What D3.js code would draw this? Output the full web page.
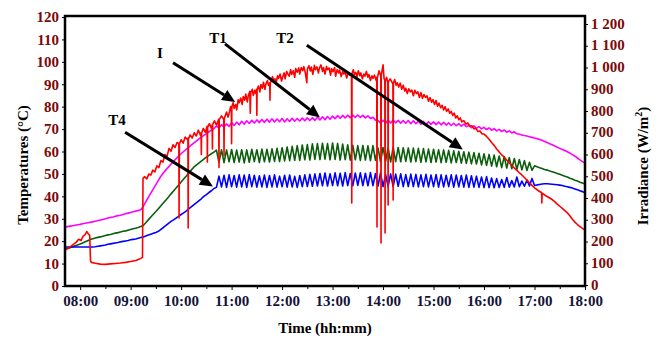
<!DOCTYPE html>
<html>
<head>
<meta charset="utf-8">
<script src="https://cdn.jsdelivr.net/npm/d3@7"></script>
<style>
  body { margin: 0; background: #fff; }
  text { font-family: "Liberation Serif", "Times New Roman", serif; font-weight: bold; }
</style>
</head>
<body>
<script>
//Data - temperature logs sampled every 3 minutes (0.05 h) from 07:42
    const tStart = 7.7;
    const tStep = 0.05;

    // T1 (magenta), °C
    const t1Temp = [
        26.3,26.5,26.7,26.9,27.1,27.3,27.5,27.8,28.0,28.2,28.4,28.6,28.9,29.2,29.4,29.7,30.0,30.3,30.6,30.8,
        31.1,31.4,31.6,31.9,32.2,32.5,32.8,33.1,33.4,33.7,34.0,35.5,37.5,39.5,41.4,43.3,45.2,47.1,49.0,50.5,
        51.8,53.1,54.4,55.6,56.8,57.9,59.0,60.0,61.0,61.9,62.8,63.7,64.6,65.5,66.4,67.2,68.0,68.8,69.5,70.2,
        71.4,70.4,72.0,70.9,72.3,71.2,72.9,71.6,73.1,71.9,73.5,72.2,73.7,72.5,73.9,72.7,74.1,72.9,74.3,73.0,
        74.4,73.1,74.6,73.2,74.5,73.3,74.7,73.2,74.6,73.4,74.8,73.5,74.7,73.6,74.9,73.7,75.0,73.8,75.1,73.9,
        75.3,74.1,75.5,74.2,75.6,74.4,75.8,74.6,76.0,74.8,76.1,75.0,76.2,75.1,76.2,75.2,76.3,75.2,76.1,75.0,
        75.9,74.7,75.3,74.0,73.8,72.6,73.9,72.6,74.0,72.7,74.0,72.8,73.9,72.6,73.8,72.6,73.8,72.4,73.7,72.4,
        73.5,72.2,73.4,72.1,73.3,72.1,73.2,72.0,73.1,71.9,73.0,71.8,72.8,71.6,72.6,71.5,72.4,71.3,72.2,71.1,
        71.6,70.6,71.4,70.3,71.1,70.1,70.8,69.8,70.5,69.5,70.2,69.2,69.9,68.9,69.6,68.6,69.2,68.3,68.8,67.9,
        67.7,67.4,67.1,66.9,66.6,66.3,66.0,65.7,65.4,65.0,64.5,64.0,63.5,63.0,62.5,61.9,61.4,60.9,60.4,59.9,
        59.3,58.6,57.9,57.1,56.3,55.5,54.8
    ];

    // T2 (green), °C
    const t2Temp = [
        16.3,16.7,17.1,17.5,17.9,18.3,18.7,19.2,19.7,20.2,20.7,21.1,21.4,21.7,21.9,22.2,22.5,22.8,23.0,23.3,
        23.6,23.8,24.1,24.4,24.6,24.9,25.2,25.5,25.8,26.1,26.5,27.0,28.2,29.5,30.8,32.0,33.2,34.5,35.8,37.1,
        38.4,39.7,41.1,42.4,43.7,45.0,46.4,47.7,49.0,50.4,51.7,53.0,53.9,54.8,55.7,56.6,57.5,58.3,59.0,59.7,
        60.6,55.2,60.8,55.0,60.7,55.4,60.9,55.1,60.6,55.3,60.8,54.9,60.7,55.2,61.0,55.5,60.8,55.1,61.1,55.4,
        61.0,55.3,61.2,55.6,61.4,55.5,61.7,55.8,62.0,55.9,62.3,56.1,62.6,56.0,62.9,56.3,63.1,56.2,63.4,56.5,
        63.5,56.4,63.7,56.6,63.5,56.3,63.8,56.5,63.6,56.2,63.3,56.4,63.0,56.1,62.8,56.3,62.6,56.0,62.7,56.2,
        62.5,55.9,62.6,56.1,61.6,55.4,61.8,55.6,61.7,55.3,61.9,55.5,61.8,55.4,61.7,55.6,61.6,55.3,61.5,55.5,
        61.4,55.2,61.3,55.4,61.1,55.1,61.0,55.3,60.8,55.0,60.7,55.2,60.5,54.9,60.3,55.1,60.1,54.8,59.9,54.7,
        59.7,54.5,59.5,54.4,59.2,54.0,59.0,53.8,58.7,53.5,58.4,53.2,58.0,52.8,57.7,52.6,57.3,52.3,56.9,52.0,
        56.4,51.8,55.9,51.5,55.2,51.6,53.6,53.2,52.8,52.4,52.0,51.7,51.3,51.0,50.6,50.2,49.8,49.4,49.0,48.6,
        48.1,47.7,47.2,46.8,46.3,45.9,45.5
    ];

    // T4 (blue), °C
    const t4Temp = [
        17.4,17.4,17.4,17.4,17.4,17.4,17.4,17.4,17.4,17.4,17.4,17.4,17.5,17.7,17.9,18.1,18.3,18.6,18.8,19.0,
        19.2,19.4,19.7,19.9,20.1,20.3,20.6,20.8,21.0,21.3,21.6,21.9,22.3,22.7,23.1,23.5,23.9,24.4,25.3,26.1,
        27.0,27.9,28.8,29.5,30.3,31.1,31.9,32.6,33.4,34.4,35.3,36.2,37.1,38.0,38.9,40.0,40.8,41.7,42.5,43.5,
        44.0,49.0,44.2,49.4,44.0,49.6,44.3,49.3,44.1,49.6,44.2,49.5,44.0,49.7,44.3,49.4,44.1,49.2,44.2,49.5,
        44.0,49.3,44.2,49.6,44.1,49.0,44.3,49.4,44.1,49.5,44.2,48.9,44.0,49.3,44.3,49.6,44.4,49.8,44.5,50.0,
        44.6,50.2,44.7,50.4,44.6,50.1,44.8,50.5,44.7,50.3,44.6,50.6,44.8,50.2,44.7,50.4,44.9,50.5,44.8,50.3,
        44.7,50.6,44.8,50.2,44.6,50.4,44.3,49.8,44.5,50.0,44.4,49.9,44.5,50.1,44.3,49.7,44.4,49.9,44.3,49.8,
        44.2,49.6,44.3,49.8,44.2,49.5,44.3,49.7,44.1,49.6,44.2,49.4,44.3,49.6,44.1,49.5,44.2,49.3,44.1,49.5,
        44.0,49.2,44.1,49.0,44.0,48.6,43.9,48.8,43.9,48.2,43.8,47.9,43.9,47.5,44.0,48.4,44.1,47.0,44.2,48.6,
        44.3,46.8,44.5,47.3,44.6,48.0,44.8,45.1,45.3,45.5,45.6,45.6,45.5,45.4,45.3,45.2,45.0,44.8,44.5,44.3,
        44.0,43.7,43.3,42.9,42.5,42.1,41.6
    ];

    // I (red), [hour, W/m²]
    const irradiance = [
        [7.70,161],[7.78,172],[7.86,186],[7.92,196],[7.97,210],[8.02,205],[8.06,225],[8.10,232],[8.13,246],[8.16,236],
        [8.19,228],[8.205,112],[8.22,104],[8.30,100],[8.40,96],[8.50,95],[8.60,97],[8.70,99],[8.80,101],[8.90,104],
        [9.00,108],[9.10,113],[9.18,120],[9.235,127],[9.245,490],[9.28,498],[9.32,488],[9.36,510],[9.40,505],[9.44,528],
        [9.48,520],[9.52,548],[9.56,540],[9.60,572],[9.64,565],[9.68,600],[9.72,590],[9.76,628],[9.80,615],[9.84,645],
        [9.88,632],[9.92,655],[9.955,650],[9.96,308],[9.965,648],[10.00,668],[10.04,652],[10.08,680],[10.12,670],[10.135,675],
        [10.14,262],[10.145,672],[10.18,690],[10.22,676],[10.26,700],[10.30,685],[10.34,712],[10.38,690],[10.395,700],[10.40,600],
        [10.405,698],[10.44,720],[10.48,702],[10.515,730],[10.52,565],[10.525,725],[10.56,742],[10.60,720],[10.615,735],[10.62,625],
        [10.625,738],[10.66,755],[10.70,735],[10.745,762],[10.75,540],[10.755,760],[10.80,778],[10.845,760],[10.85,595],[10.855,765],
        [10.90,795],[10.93,772],[10.95,788],[10.98,820],[10.995,815],[11.00,650],[11.005,820],[11.03,838],[11.05,812],[11.08,830],
        [11.10,805],[11.13,852],[11.15,838],[11.18,860],[11.21,830],[11.23,866],[11.26,850],[11.28,878],[11.31,842],[11.33,870],
        [11.36,890],[11.37,790],[11.38,885],[11.41,900],[11.43,872],[11.46,895],[11.48,880],[11.495,900],[11.50,780],[11.505,898],
        [11.53,915],[11.56,888],[11.58,922],[11.61,905],[11.63,932],[11.66,900],[11.68,925],[11.71,940],[11.73,918],[11.755,930],
        [11.76,850],[11.765,928],[11.78,935],[11.81,958],[11.83,940],[11.86,948],[11.88,925],[11.91,962],[11.93,950],[11.96,970],
        [11.99,938],[12.01,955],[12.04,975],[12.06,948],[12.09,982],[12.11,972],[12.14,960],[12.17,990],[12.19,968],[12.22,985],
        [12.25,955],[12.27,995],[12.30,978],[12.33,998],[12.35,970],[12.38,1000],[12.41,985],[12.43,1004],[12.46,975],[12.49,930],
        [12.50,992],[12.53,1008],[12.56,984],[12.58,1002],[12.61,968],[12.64,1010],[12.66,990],[12.69,1003],[12.72,975],[12.74,998],
        [12.77,1012],[12.80,982],[12.82,1000],[12.85,970],[12.88,1005],[12.90,990],[12.93,998],[12.96,965],[12.98,995],[13.01,980],
        [13.04,1000],[13.06,960],[13.09,990],[13.12,975],[13.14,988],[13.17,958],[13.20,982],[13.22,970],[13.25,978],[13.28,952],
        [13.31,975],[13.34,965],[13.375,970],[13.38,377],[13.385,972],[13.41,990],[13.43,968],[13.46,978],[13.48,955],[13.51,985],
        [13.54,962],[13.56,975],[13.59,948],[13.62,970],[13.64,960],[13.67,982],[13.70,955],[13.72,968],[13.75,940],[13.78,962],
        [13.80,950],[13.83,965],[13.86,942],[13.875,955],[13.88,267],[13.885,950],[13.92,985],[13.955,960],[13.96,193],[13.965,965],
        [14.00,1012],[14.02,950],[14.035,940],[14.04,239],[14.045,938],[14.07,955],[14.095,930],[14.10,368],[14.105,935],[14.14,948],
        [14.195,925],[14.20,391],[14.205,928],[14.23,945],[14.26,918],[14.28,930],[14.31,910],[14.34,928],[14.37,900],[14.40,918],
        [14.43,892],[14.45,905],[14.48,880],[14.51,902],[14.54,888],[14.57,896],[14.60,870],[14.63,895],[14.66,880],[14.69,888],
        [14.72,862],[14.75,885],[14.78,858],[14.81,876],[14.84,862],[14.87,870],[14.90,845],[14.93,862],[14.96,840],[14.99,852],
        [15.02,830],[15.05,848],[15.08,822],[15.11,836],[15.14,815],[15.17,826],[15.20,805],[15.23,820],[15.26,798],[15.29,810],
        [15.32,790],[15.35,798],[15.38,780],[15.41,790],[15.44,768],[15.47,778],[15.50,760],[15.53,768],[15.56,750],[15.60,756],
        [15.64,740],[15.68,745],[15.72,730],[15.76,732],[15.80,718],[15.84,720],[15.88,706],[15.92,708],[15.96,695],[16.00,694],
        [16.05,683],[16.10,670],[16.15,655],[16.20,642],[16.25,625],[16.30,612],[16.35,598],[16.40,588],[16.45,574],[16.50,562],
        [16.55,550],[16.60,538],[16.65,527],[16.70,516],[16.75,506],[16.80,494],[16.85,482],[16.90,470],[16.95,458],[17.00,447],
        [17.05,438],[17.10,430],[17.14,425],[17.145,377],[17.15,422],[17.20,414],[17.25,407],[17.30,400],[17.35,393],[17.40,383],
        [17.45,372],[17.50,362],[17.55,352],[17.60,342],[17.65,332],[17.70,318],[17.75,302],[17.80,289],[17.85,278],[17.90,268],
        [17.95,260],[18.00,252]
    ];

    const hourTicks = [8, 9, 10, 11, 12, 13, 14, 15, 16, 17, 18];
    const halfHourTicks = [8.5, 9.5, 10.5, 11.5, 12.5, 13.5, 14.5, 15.5, 16.5, 17.5];
    const tempTicks = [0, 10, 20, 30, 40, 50, 60, 70, 80, 90, 100, 110, 120];
    const irrTicks = [0, 100, 200, 300, 400, 500, 600, 700, 800, 900, 1000, 1100, 1200];

    // arrows: label position and line, in (hour, °C)
    const arrows = [
        {label: "I",  lx: 9.58,  ly: 101.5, x1: 9.84,  y1: 99.6,  x2: 11.07, y2: 82.1},
        {label: "T1", lx: 10.73, ly: 108.6, x1: 10.87, y1: 108.0, x2: 12.75, y2: 75.2},
        {label: "T2", lx: 12.06, ly: 108.6, x1: 12.49, y1: 107.4, x2: 15.58, y2: 60.9},
        {label: "T4", lx: 8.73,  ly: 71.6,  x1: 8.89,  y1: 68.6,  x2: 10.63, y2: 44.4}
    ];

//Layout
    const width = 663, height = 343;
    const plotLeft = 65, plotRight = 585, plotTop = 16, plotBottom = 286;

    const svg = d3.select("body").append("svg")
        .attr("width", width)
        .attr("height", height);

//Scales
    const xScale = d3.scaleLinear().domain([7.7, 18]).range([plotLeft, plotRight]);
    const yTemp = d3.scaleLinear().domain([0, 120]).range([plotBottom, 17]);
    const yIrr = d3.scaleLinear().domain([0, 1200]).range([285, 24]);

    svg.append("clipPath").attr("id", "plot")
        .append("rect")
        .attr("x", plotLeft).attr("y", plotTop)
        .attr("width", plotRight - plotLeft).attr("height", plotBottom - plotTop);

//Lines
    const tempLine = d3.line()
        .x((d, i) => xScale(tStart + i * tStep))
        .y(d => yTemp(d));

    const irrLine = d3.line()
        .x(d => xScale(d[0]))
        .y(d => yIrr(d[1]));

    const plot = svg.append("g").attr("clip-path", "url(#plot)");

    [[t1Temp, "#ff00ff"], [t2Temp, "#0b5e0b"], [t4Temp, "#0000ff"]].forEach(s => {
        plot.append("path")
            .attr("d", tempLine(s[0]))
            .attr("fill", "none")
            .attr("stroke", s[1])
            .attr("stroke-width", 1.6)
            .attr("stroke-linejoin", "round");
    });

    plot.append("path")
        .attr("d", irrLine(irradiance))
        .attr("fill", "none")
        .attr("stroke", "#ff0000")
        .attr("stroke-width", 1.6)
        .attr("stroke-linejoin", "round");

//Arrows
    arrows.forEach(a => {
        const x1 = xScale(a.x1), y1 = yTemp(a.y1), x2 = xScale(a.x2), y2 = yTemp(a.y2);
        const ang = Math.atan2(y2 - y1, x2 - x1);
        const hl = 13, hw = 6;
        const bx = x2 - hl * Math.cos(ang), by = y2 - hl * Math.sin(ang);
        svg.append("line")
            .attr("x1", x1).attr("y1", y1)
            .attr("x2", bx).attr("y2", by)
            .attr("stroke", "#000").attr("stroke-width", 3);
        svg.append("polygon")
            .attr("points", [
                [x2, y2],
                [bx + hw * Math.sin(ang), by - hw * Math.cos(ang)],
                [bx - hw * Math.sin(ang), by + hw * Math.cos(ang)]
            ].map(p => p.join(",")).join(" "))
            .attr("fill", "#000");
        svg.append("text")
            .attr("x", xScale(a.lx)).attr("y", yTemp(a.ly))
            .attr("text-anchor", "middle")
            .attr("font-size", 15)
            .attr("fill", "#000")
            .text(a.label);
    });

//Axes
    const leftAxis = d3.axisLeft(yTemp).tickValues(tempTicks).tickSize(3).tickPadding(3);
    const rightAxis = d3.axisRight(yIrr).tickValues(irrTicks).tickSize(3).tickPadding(3)
        .tickFormat(d => d >= 1000 ? Math.floor(d / 1000) + " " + d3.format("03")(d % 1000) : d);
    const bottomAxis = d3.axisBottom(xScale).tickValues(hourTicks).tickSize(4).tickPadding(5)
        .tickFormat(d => d3.format("02")(d) + ":00");
    const minorAxis = d3.axisBottom(xScale).tickValues(halfHourTicks).tickSize(3).tickFormat("");

    const gl = svg.append("g").attr("transform", "translate(" + plotLeft + ",0)").call(leftAxis);
    const gr = svg.append("g").attr("transform", "translate(" + plotRight + ",0)").call(rightAxis);
    const gb = svg.append("g").attr("transform", "translate(0," + plotBottom + ")").call(bottomAxis);
    const gm = svg.append("g").attr("transform", "translate(0," + plotBottom + ")").call(minorAxis);

    [gl, gr, gb, gm].forEach(g => {
        g.select(".domain").remove();
        g.selectAll("line").attr("stroke", "#000");
        g.selectAll("text").attr("font-family", "Liberation Serif, serif").attr("font-weight", "bold").attr("font-size", 15);
    });
    gl.selectAll("text").attr("fill", "#7a0a0a");
    gr.selectAll("text").attr("fill", "#7a0a0a").attr("dy", "0.28em");
    gb.selectAll("text").attr("fill", "#141438");

//Frame
    svg.append("rect")
        .attr("x", plotLeft).attr("y", plotTop)
        .attr("width", plotRight - plotLeft).attr("height", plotBottom - plotTop)
        .attr("fill", "none")
        .attr("stroke", "#000")
        .attr("stroke-width", 2.5);

//Titles
    svg.append("text")
        .attr("transform", "translate(28,165) rotate(-90)")
        .attr("text-anchor", "middle")
        .attr("font-size", 15)
        .text("Temperatures (°C)");

    const irrTitle = svg.append("text")
        .attr("transform", "translate(648,166) rotate(-90)")
        .attr("text-anchor", "middle")
        .attr("font-size", 15)
        .text("Irradiance (W/m");
    irrTitle.append("tspan").attr("font-size", 10).attr("dy", -6).text("2");
    irrTitle.append("tspan").attr("dy", 6).text(")");

    svg.append("text")
        .attr("x", 325).attr("y", 333)
        .attr("text-anchor", "middle")
        .attr("font-size", 15)
        .text("Time (hh:mm)");
</script>
</body>
</html>
